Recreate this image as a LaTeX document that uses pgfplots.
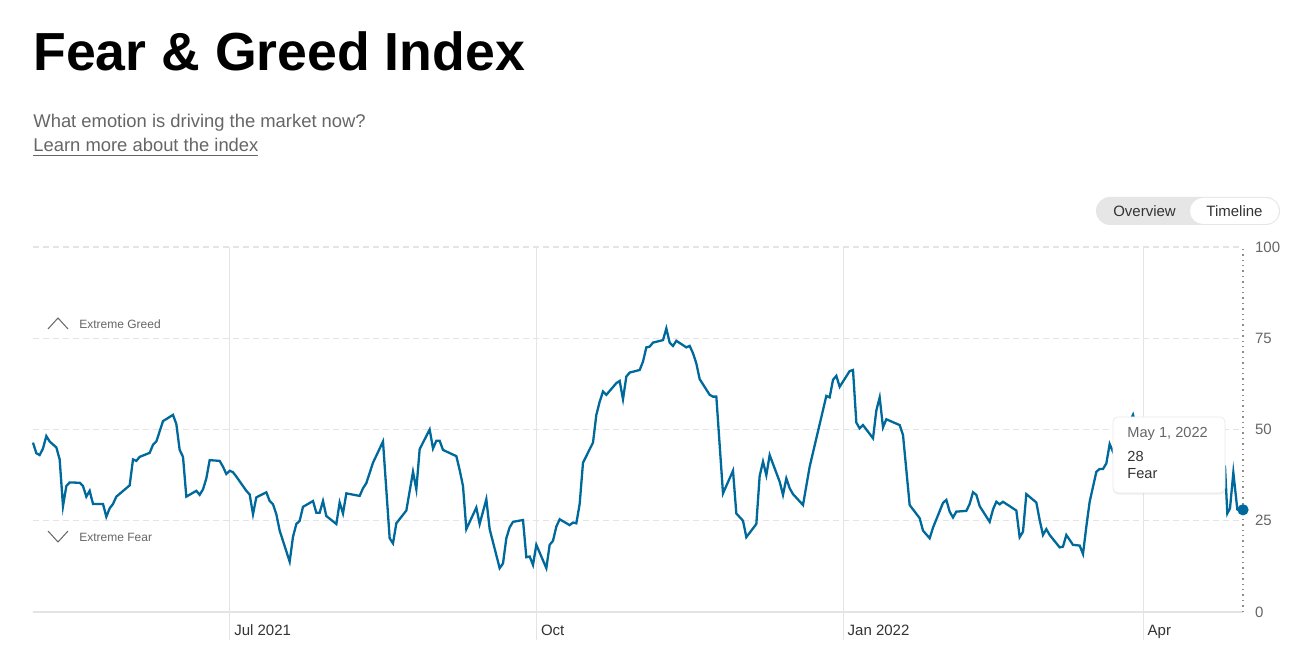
\documentclass[border=0pt]{standalone}
\usepackage{fontspec}
\setmainfont{Liberation Sans}
\usepackage{pgfplots}
\pgfplotsset{compat=1.18}
\usetikzlibrary{shadows}
\definecolor{fgblue}{RGB}{0,105,155}
\definecolor{gridgray}{RGB}{228,228,228}
\definecolor{txtgray}{RGB}{102,102,102}
\definecolor{txtdark}{RGB}{51,51,51}
\definecolor{pillgray}{RGB}{230,230,230}

\begin{document}
\begin{tikzpicture}
\useasboundingbox[fill=white] (0,0) rectangle (648pt,323pt);

% heading
\node[anchor=base west, inner sep=0pt, font=\bfseries\fontsize{26.8pt}{30pt}\selectfont] at (16.5pt,287.5pt) {Fear \& Greed Index};
\node[anchor=base west, inner sep=0pt, text=txtgray, font=\fontsize{9.2pt}{11pt}\selectfont] at (16.5pt,259pt) {What emotion is driving the market now?};
\node[anchor=base west, inner sep=0pt, text=txtgray, font=\fontsize{9.2pt}{11pt}\selectfont] at (16.5pt,247pt) {\underline{Learn more about the index}};

% view switch
\fill[pillgray, rounded corners=7pt] (548pt,210.5pt) rectangle (640pt,224.5pt);
\fill[white, rounded corners=6.5pt] (595pt,211pt) rectangle (639.5pt,224pt);
\node[text=txtdark, font=\fontsize{7.5pt}{9pt}\selectfont] at (572.25pt,217.5pt) {Overview};
\node[text=txtdark, font=\fontsize{7.5pt}{9pt}\selectfont] at (617.25pt,217.5pt) {Timeline};

\begin{axis}[
    at={(16.5pt,17pt)}, anchor=south west,
    scale only axis, width=605pt, height=182.5pt,
    xmin=-59, xmax=304, ymin=0, ymax=100,
    axis line style={draw=none},
    clip=false,
    xtick={0,92,184,274},
    xticklabels={Jul 2021,Oct,Jan 2022,Apr},
    ytick={0,25,50,75,100},
    xtick pos=bottom, yticklabel pos=right,
    tick align=outside, major tick length=14pt,
    xtick style={color=gridgray, line width=0.5pt},
    ytick style={draw=none},
    xmajorgrids, ymajorgrids,
    x grid style={color=gridgray, line width=0.5pt},
    y grid style={color=gridgray, line width=0.6pt, dash pattern=on 3pt off 2pt},
    tick label style={font=\fontsize{7.5pt}{9pt}\selectfont},
    /pgf/number format/assume math mode=true,
    xticklabel style={text=txtdark, anchor=base west, xshift=-1.2pt, yshift=2pt},
    yticklabel style={text=txtgray, anchor=west, xshift=-11.5pt},
]
\draw[gridgray, line width=0.9pt] (axis cs:-59,0) -- (axis cs:304,0);
\draw[black!45, dotted, line width=0.7pt] (axis cs:304,0) -- (axis cs:304,100);

\addplot[fgblue, line width=1.15pt] coordinates {
(-59,46.4)(-58,43.5)(-57,43.0)(-56,44.8)(-55,48.2)(-54,46.7)(-52,45.1)(-51,41.8)
(-50,29.0)(-49,34.5)(-48,35.5)(-45,35.4)(-44,34.5)(-43,31.6)(-42,33.2)(-41,29.6)
(-38,29.6)(-37,26.1)(-36,28.4)(-35,29.6)(-34,31.6)(-30,34.7)(-29,41.8)(-28,41.4)
(-27,42.5)(-24,43.6)(-23,45.8)(-22,46.7)(-20,52.3)(-17,54.0)(-16,51.5)(-15,44.4)
(-14,42.5)(-13,31.6)(-10,33.2)(-9,32.1)(-8,33.6)(-7,36.6)(-6,41.6)(-3,41.4)
(-2,39.8)(-1,37.8)(0,38.7)(1,38.3)(2,37.1)(5,33.2)(6,32.2)(7,26.8)(8,31.4)
(11,32.8)(12,30.4)(13,29.5)(14,26.8)(15,22.3)(18,13.8)(19,20.6)(20,24.1)(21,25.0)
(22,28.8)(25,30.4)(26,27.2)(27,27.2)(28,30.4)(29,26.3)(32,24.1)(33,30.0)(34,27.0)
(35,32.5)(39,31.8)(40,33.9)(41,35.3)(43,40.9)(46,46.7)(48,20.2)(49,18.8)(50,24.3)
(53,27.8)(55,38.4)(56,33.6)(57,44.6)(60,50.0)(61,44.8)(62,46.9)(63,46.9)(64,44.4)
(68,42.7)(69,38.9)(70,34.5)(71,22.7)(74,28.6)(75,24.1)(77,30.9)(78,22.7)(81,12.0)
(82,13.3)(83,20.2)(84,23.2)(85,24.7)(88,25.2)(89,15.0)(90,15.2)(91,12.9)(92,18.4)
(95,12.0)(96,18.4)(97,19.5)(98,23.4)(99,25.4)(102,23.8)(103,24.5)(104,24.3)
(105,29.6)(106,40.9)(109,46.4)(110,54.0)(111,57.6)(112,60.4)(113,59.5)(116,62.7)
(117,63.3)(118,58.3)(119,64.5)(120,65.6)(123,66.3)(124,68.6)(125,72.5)(126,72.7)
(127,73.8)(130,74.5)(131,77.7)(132,73.8)(133,72.9)(134,74.3)(137,72.5)(138,72.9)
(139,70.9)(140,68.1)(141,63.8)(144,59.5)(145,59.0)(146,59.0)(148,32.5)(151,38.7)
(152,27.0)(154,25.0)(155,20.5)(158,24.1)(159,37.3)(160,41.2)(161,37.5)(162,43.0)
(165,35.7)(166,32.1)(167,36.6)(168,33.9)(169,32.3)(172,29.3)(174,39.8)(179,59.2)
(180,58.8)(181,63.6)(182,64.7)(183,61.7)(186,66.0)(187,66.3)(188,51.9)(189,50.3)
(190,51.2)(193,47.6)(194,55.2)(195,58.8)(196,50.6)(197,52.8)(201,51.2)(202,48.5)
(204,29.3)(207,25.7)(208,22.3)(210,20.2)(211,23.1)(214,29.9)(215,30.7)(216,27.5)
(217,25.9)(218,27.5)(221,27.7)(222,29.6)(223,32.8)(224,32.1)(225,29.0)(228,24.7)
(229,28.1)(230,30.2)(231,29.5)(232,30.2)(236,27.8)(237,20.5)(238,22.0)(239,32.3)
(242,30.0)(243,25.2)(244,21.1)(245,22.7)(246,21.1)(249,17.7)(250,17.9)(251,21.1)
(253,18.4)(255,18.2)(256,15.9)(257,23.4)(258,30.2)(260,38.4)(261,39.2)(262,39.2)
(263,40.7)(264,46.0)(265,43.9)(267,47.0)(269,50.0)(271,54.0)(273,47.0)(276,44.0)
(279,42.0)(282,44.0)(285,40.0)(288,37.0)(291,41.0)(294,38.0)(297,42.0)(298.6,39.8)
(299.3,27.0)(300.1,28.4)(301.1,38.2)(302.3,28.1)(303.3,27.7)(304,28.0)
};
\addplot[only marks, mark=*, mark size=2.6pt, fgblue] coordinates {(304,28)};
\end{axis}

% zone labels
\draw[txtgray, line width=0.5pt] (24pt,158.5pt) -- (29pt,164pt) -- (34pt,158.5pt);
\node[anchor=west, inner sep=0pt, text=txtgray, font=\fontsize{6pt}{7pt}\selectfont] at (39.5pt,161pt) {Extreme Greed};
\draw[txtgray, line width=0.5pt] (24pt,57.5pt) -- (29pt,52pt) -- (34pt,57.5pt);
\node[anchor=west, inner sep=0pt, text=txtgray, font=\fontsize{6pt}{7pt}\selectfont] at (39.5pt,54.5pt) {Extreme Fear};

% tooltip
\fill[white, rounded corners=2.5pt, drop shadow={opacity=0.12, shadow xshift=0pt, shadow yshift=-0.8pt}] (556.5pt,76.5pt) rectangle (612.5pt,114.5pt);
\draw[black!8, rounded corners=2.5pt, line width=0.4pt] (556.5pt,76.5pt) rectangle (612.5pt,114.5pt);
\node[anchor=west, inner sep=0pt, text=txtgray, font=\fontsize{7.3pt}{9pt}\selectfont] at (563.5pt,106pt) {May 1, 2022};
\node[anchor=west, inner sep=0pt, text=txtdark, font=\fontsize{7.3pt}{9pt}\selectfont] at (563.5pt,95pt) {28};
\node[anchor=west, inner sep=0pt, text=txtdark, font=\fontsize{7.3pt}{9pt}\selectfont] at (563.5pt,86pt) {Fear};
\end{tikzpicture}
\end{document}
